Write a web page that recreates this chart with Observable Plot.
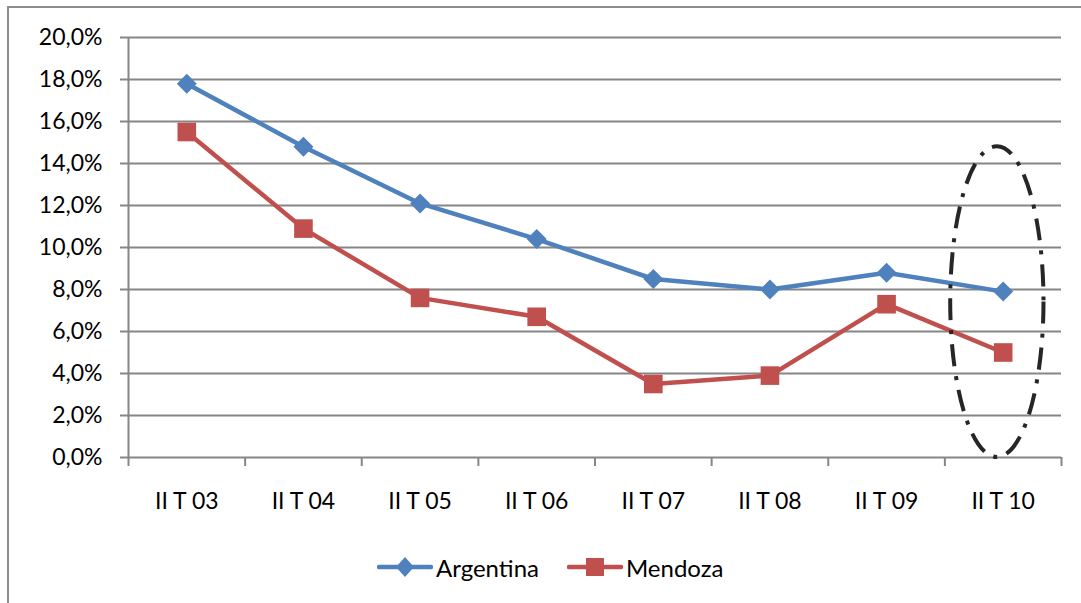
<!DOCTYPE html>
<html>
<head>
<meta charset="utf-8">
<script src="https://cdn.jsdelivr.net/npm/d3@7"></script>
<script src="https://cdn.jsdelivr.net/npm/@observablehq/plot@0.6"></script>
<style>
  html, body { margin: 0; padding: 0; background: #fff; overflow: hidden; }
  body { width: 1081px; height: 603px; position: relative; font-family: Lato, "Open Sans", sans-serif; }
  #chart { position: absolute; left: 0; top: 0; }
  #frame { position: absolute; left: 7px; top: 6px; width: 1074px; height: 597px;
           border-left: 2px solid #8c8c8c; border-top: 2px solid #8c8c8c; box-sizing: border-box; pointer-events: none; }
  #legend { position: absolute; left: 377px; top: 552px; height: 30px; display: flex; align-items: center;
            font-family: Lato, sans-serif; font-size: 24px; color: #000; }
  #legend .item { display: flex; align-items: center; margin-right: 28px; }
  #legend svg { display: block; margin-right: 3px; }
</style>
</head>
<body>
<div id="chart"></div>
<div id="frame"></div>
<div id="legend"></div>
<script>
// ---- data ----
const categories = ["II T 03", "II T 04", "II T 05", "II T 06", "II T 07", "II T 08", "II T 09", "II T 10"];
const argentina = [17.8, 14.8, 12.1, 10.4, 8.5, 8.0, 8.8, 7.9];
const mendoza = [15.5, 10.9, 7.6, 6.7, 3.5, 3.9, 7.3, 5.0];
const seriesNames = ["Argentina", "Mendoza"];
const seriesColors = ["#4F81BD", "#C0504D"];
const yTicks = [0, 2, 4, 6, 8, 10, 12, 14, 16, 18, 20];
// highlighted period (dash-dot ellipse): category, value range enclosed
const highlight = [{category: "II T 10", low: 0, high: 14.8}];

// ---- build table ----
const rows = [];
categories.forEach((c, i) => {
  rows.push({i, category: c, value: argentina[i], series: "Argentina"});
  rows.push({i, category: c, value: mendoza[i], series: "Mendoza"});
});
const argRows = rows.filter(d => d.series === "Argentina");
const menRows = rows.filter(d => d.series === "Mendoza");
const catIndex = new Map(categories.map((c, i) => [c, i]));
const boundaries = d3.range(categories.length + 1).map(i => i - 0.5);
const fmt = d => d.toFixed(1).replace(".", ",") + "%";
const gray = "#868686";

const ellipseMark = (index, scales) => {
  const g = d3.create("svg:g");
  for (const h of highlight) {
    const ci = catIndex.get(h.category);
    const cx = scales.x(ci - 0.05);
    const x1 = scales.x(ci + 0.35);
    const yTop = scales.y(h.high), yBot = scales.y(h.low);
    g.append("ellipse")
      .attr("cx", cx).attr("cy", (yTop + yBot) / 2)
      .attr("rx", x1 - cx).attr("ry", (yBot - yTop) / 2)
      .attr("fill", "none").attr("stroke", "#262626")
      .attr("stroke-width", 4)
      .attr("stroke-dasharray", "22,10,4,10");
  }
  return g.node();
};

const chart = Plot.plot({
  width: 1081,
  height: 520,
  marginLeft: 128,
  marginRight: 20,
  marginTop: 37,
  marginBottom: 63,
  style: {background: "transparent", fontFamily: "Lato, sans-serif", fontSize: "23px", color: "#000"},
  x: {type: "linear", domain: [-0.5, categories.length - 0.5], label: null},
  y: {domain: [0, 20], label: null},
  marks: [
    Plot.gridY(yTicks, {stroke: gray, strokeOpacity: 1, strokeWidth: 2}),
    Plot.ruleX([-0.5], {stroke: gray, strokeWidth: 2}),
    Plot.axisY({ticks: yTicks, tickSize: 8, tickPadding: 18, tickFormat: fmt, fontSize: 23,
                stroke: gray, strokeWidth: 2, fill: "#000", label: null}),
    Plot.axisX({ticks: boundaries, tickSize: 9, tickFormat: () => "", stroke: gray, strokeWidth: 2, label: null}),
    Plot.axisX({ticks: d3.range(categories.length), tickSize: 0, tickPadding: 35,
                tickFormat: i => categories[i], fontSize: 23, fill: "#000", label: null}),
    Plot.line(argRows, {x: "i", y: "value", stroke: seriesColors[0], strokeWidth: 4.5, curve: "linear"}),
    Plot.line(menRows, {x: "i", y: "value", stroke: seriesColors[1], strokeWidth: 4.5, curve: "linear"}),
    Plot.dot(argRows, {x: "i", y: "value", symbol: "diamond2", r: 9, fill: seriesColors[0], stroke: "none"}),
    Plot.dot(menRows, {x: "i", y: "value", symbol: "square", r: 10.5, fill: seriesColors[1], stroke: "none"}),
    ellipseMark
  ]
});
document.getElementById("chart").appendChild(chart);

// ---- legend ----
const legend = d3.select("#legend");
seriesNames.forEach((name, k) => {
  const item = legend.append("div").attr("class", "item");
  const s = item.append("svg").attr("width", 56).attr("height", 24);
  s.append("line").attr("x1", 2).attr("x2", 54).attr("y1", 12).attr("y2", 12)
    .attr("stroke", seriesColors[k]).attr("stroke-width", 4.5).attr("stroke-linecap", "round");
  if (k === 0) {
    s.append("path").attr("d", "M28,2 L37,12 L28,22 L19,12 Z").attr("fill", seriesColors[k]);
  } else {
    s.append("rect").attr("x", 19).attr("y", 3).attr("width", 18).attr("height", 18).attr("fill", seriesColors[k]);
  }
  item.append("span").text(name);
});
</script>
</body>
</html>
